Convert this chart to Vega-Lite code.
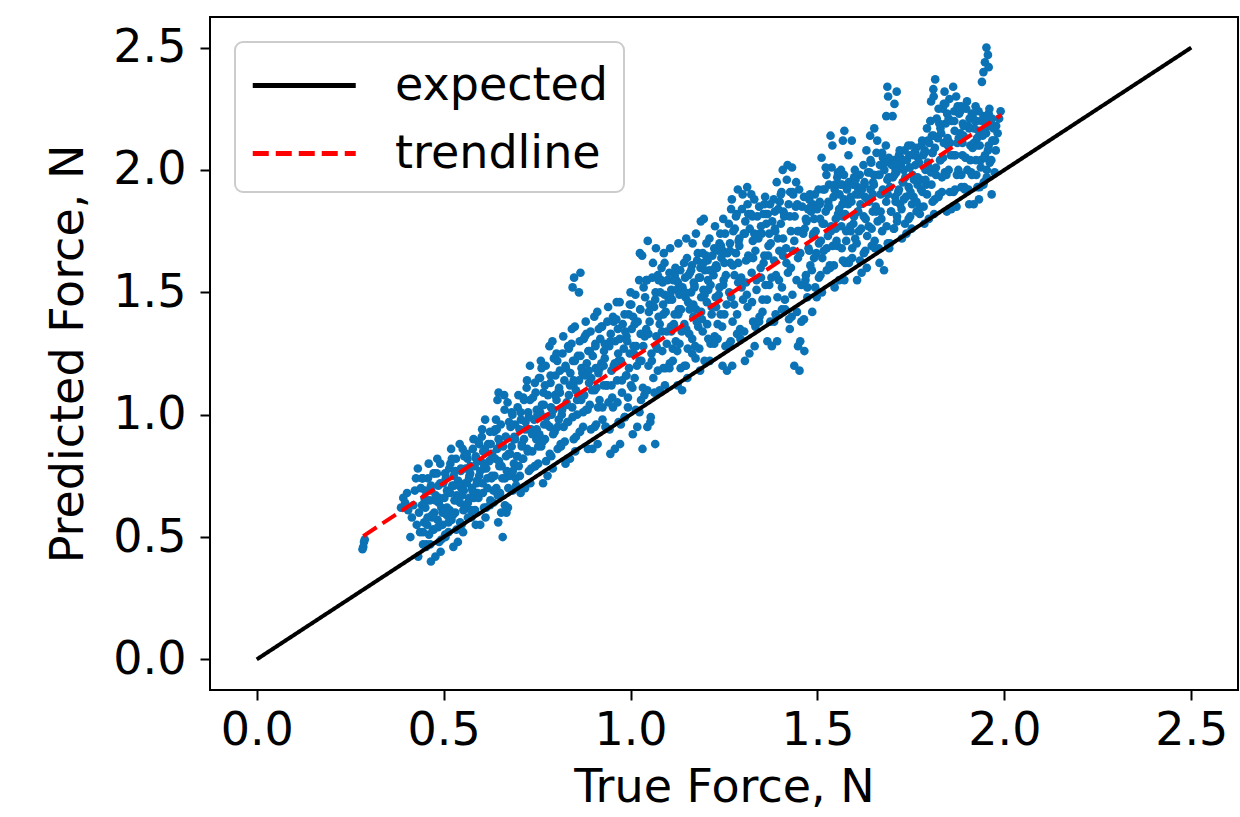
{
"$schema": "https://vega.github.io/schema/vega-lite/v6.json",
"width": 1028,
"height": 673,
"autosize": {"type": "none"},
"padding": {"left": 210, "top": 17, "right": 2, "bottom": 127},
"background": "white",
"config": {
  "font": "DejaVu Sans",
  "view": {"stroke": "#000", "strokeWidth": 2},
  "axis": {"grid": false, "domain": false, "tickColor": "#000", "tickWidth": 2, "tickSize": 10, "labelFont": "DejaVu Sans", "labelFontSize": 46, "labelColor": "#000", "titleFont": "DejaVu Sans", "titleFontSize": 46, "titleFontWeight": "normal", "titleColor": "#000"},
  "legend": {"orient": "top-left", "offset": 25, "title": null, "labelFont": "DejaVu Sans", "labelFontSize": 46, "labelColor": "#000", "labelLimit": 600, "symbolType": "M-1,0H3", "symbolSize": 2652, "symbolStrokeWidth": 5, "padding": 15, "rowPadding": 16, "labelOffset": 88, "strokeColor": "#cccccc", "strokeWidth": 2, "cornerRadius": 8, "fillColor": "white"}
},
"datasets": {
"lines": [
  {"series": "expected", "x": 0, "y": 0}, {"series": "expected", "x": 2.5, "y": 2.5},
  {"series": "trendline", "x": 0.285, "y": 0.504}, {"series": "trendline", "x": 1.992, "y": 2.225}
],
"pts": [
{"x":0.283,"y":0.45},{"x":0.285,"y":0.46},{"x":0.287,"y":0.48},{"x":0.289,"y":0.49},
{"x":0.386,"y":0.62},{"x":0.392,"y":0.66},{"x":0.397,"y":0.64},{"x":0.402,"y":0.68},{"x":0.405,"y":0.61},
{"x":0.411,"y":0.50},{"x":0.415,"y":0.58},{"x":0.419,"y":0.63},{"x":0.423,"y":0.69},{"x":0.426,"y":0.74},{"x":0.428,"y":0.55},
{"x":0.432,"y":0.42},{"x":0.445,"y":0.47},{"x":0.437,"y":0.52},{"x":0.448,"y":0.56},{"x":0.434,"y":0.60},{"x":0.442,"y":0.63},{"x":0.449,"y":0.66},{"x":0.439,"y":0.70},{"x":0.444,"y":0.74},{"x":0.431,"y":0.78},
{"x":0.466,"y":0.40},{"x":0.453,"y":0.46},{"x":0.461,"y":0.51},{"x":0.456,"y":0.55},{"x":0.469,"y":0.58},{"x":0.451,"y":0.62},{"x":0.463,"y":0.65},{"x":0.467,"y":0.69},{"x":0.458,"y":0.74},{"x":0.460,"y":0.80},
{"x":0.478,"y":0.42},{"x":0.488,"y":0.48},{"x":0.471,"y":0.53},{"x":0.484,"y":0.57},{"x":0.475,"y":0.60},{"x":0.487,"y":0.64},{"x":0.479,"y":0.67},{"x":0.486,"y":0.71},{"x":0.473,"y":0.76},{"x":0.483,"y":0.82},
{"x":0.492,"y":0.44},{"x":0.505,"y":0.50},{"x":0.497,"y":0.55},{"x":0.508,"y":0.59},{"x":0.494,"y":0.62},{"x":0.502,"y":0.66},{"x":0.509,"y":0.69},{"x":0.499,"y":0.72},{"x":0.504,"y":0.76},{"x":0.491,"y":0.80},
{"x":0.526,"y":0.46},{"x":0.513,"y":0.52},{"x":0.521,"y":0.57},{"x":0.516,"y":0.61},{"x":0.529,"y":0.65},{"x":0.511,"y":0.68},{"x":0.523,"y":0.71},{"x":0.527,"y":0.75},{"x":0.518,"y":0.80},{"x":0.520,"y":0.86},
{"x":0.538,"y":0.48},{"x":0.548,"y":0.55},{"x":0.531,"y":0.60},{"x":0.544,"y":0.64},{"x":0.535,"y":0.67},{"x":0.547,"y":0.70},{"x":0.539,"y":0.73},{"x":0.546,"y":0.77},{"x":0.533,"y":0.82},{"x":0.543,"y":0.88},
{"x":0.552,"y":0.52},{"x":0.565,"y":0.58},{"x":0.557,"y":0.62},{"x":0.568,"y":0.66},{"x":0.554,"y":0.69},{"x":0.562,"y":0.72},{"x":0.569,"y":0.75},{"x":0.559,"y":0.78},{"x":0.564,"y":0.82},{"x":0.551,"y":0.86},
{"x":0.586,"y":0.55},{"x":0.573,"y":0.61},{"x":0.581,"y":0.66},{"x":0.576,"y":0.70},{"x":0.589,"y":0.73},{"x":0.571,"y":0.76},{"x":0.583,"y":0.79},{"x":0.587,"y":0.82},{"x":0.578,"y":0.86},{"x":0.580,"y":0.90},
{"x":0.598,"y":0.55},{"x":0.608,"y":0.62},{"x":0.591,"y":0.68},{"x":0.604,"y":0.72},{"x":0.595,"y":0.75},{"x":0.607,"y":0.78},{"x":0.599,"y":0.81},{"x":0.606,"y":0.85},{"x":0.593,"y":0.89},{"x":0.603,"y":0.94},
{"x":0.612,"y":0.58},{"x":0.625,"y":0.65},{"x":0.617,"y":0.70},{"x":0.628,"y":0.74},{"x":0.614,"y":0.78},{"x":0.622,"y":0.81},{"x":0.629,"y":0.84},{"x":0.619,"y":0.88},{"x":0.624,"y":0.93},{"x":0.611,"y":0.98},
{"x":0.646,"y":0.56},{"x":0.633,"y":0.64},{"x":0.641,"y":0.70},{"x":0.636,"y":0.75},{"x":0.649,"y":0.79},{"x":0.631,"y":0.83},{"x":0.643,"y":0.86},{"x":0.647,"y":0.90},{"x":0.638,"y":0.94},{"x":0.640,"y":0.98},{"x":0.644,"y":1.06},{"x":0.647,"y":1.09},
{"x":0.658,"y":0.50},{"x":0.668,"y":0.60},{"x":0.651,"y":0.68},{"x":0.664,"y":0.74},{"x":0.655,"y":0.79},{"x":0.667,"y":0.83},{"x":0.659,"y":0.87},{"x":0.666,"y":0.91},{"x":0.653,"y":0.96},{"x":0.663,"y":1.02},{"x":0.662,"y":1.08},
{"x":0.672,"y":0.62},{"x":0.685,"y":0.69},{"x":0.677,"y":0.75},{"x":0.688,"y":0.80},{"x":0.674,"y":0.84},{"x":0.682,"y":0.87},{"x":0.689,"y":0.91},{"x":0.679,"y":0.95},{"x":0.684,"y":1.00},{"x":0.671,"y":1.05},
{"x":0.706,"y":0.68},{"x":0.693,"y":0.74},{"x":0.701,"y":0.79},{"x":0.696,"y":0.83},{"x":0.709,"y":0.87},{"x":0.691,"y":0.90},{"x":0.703,"y":0.94},{"x":0.707,"y":0.98},{"x":0.698,"y":1.03},{"x":0.700,"y":1.08},
{"x":0.718,"y":0.70},{"x":0.728,"y":0.77},{"x":0.711,"y":0.82},{"x":0.724,"y":0.86},{"x":0.715,"y":0.90},{"x":0.727,"y":0.94},{"x":0.719,"y":0.97},{"x":0.726,"y":1.01},{"x":0.713,"y":1.07},{"x":0.723,"y":1.14},
{"x":0.732,"y":0.72},{"x":0.745,"y":0.79},{"x":0.737,"y":0.85},{"x":0.748,"y":0.90},{"x":0.734,"y":0.94},{"x":0.742,"y":0.98},{"x":0.749,"y":1.02},{"x":0.739,"y":1.07},{"x":0.744,"y":1.13},{"x":0.731,"y":1.20},
{"x":0.766,"y":0.72},{"x":0.753,"y":0.80},{"x":0.761,"y":0.87},{"x":0.756,"y":0.92},{"x":0.769,"y":0.96},{"x":0.751,"y":1.00},{"x":0.763,"y":1.04},{"x":0.767,"y":1.09},{"x":0.758,"y":1.15},{"x":0.760,"y":1.22},
{"x":0.778,"y":0.75},{"x":0.788,"y":0.83},{"x":0.771,"y":0.90},{"x":0.784,"y":0.95},{"x":0.775,"y":0.99},{"x":0.787,"y":1.03},{"x":0.779,"y":1.08},{"x":0.786,"y":1.13},{"x":0.773,"y":1.20},{"x":0.783,"y":1.28},
{"x":0.792,"y":0.78},{"x":0.805,"y":0.86},{"x":0.797,"y":0.93},{"x":0.808,"y":0.98},{"x":0.794,"y":1.02},{"x":0.802,"y":1.06},{"x":0.809,"y":1.11},{"x":0.799,"y":1.16},{"x":0.804,"y":1.22},{"x":0.791,"y":1.30},
{"x":0.826,"y":0.80},{"x":0.813,"y":0.88},{"x":0.821,"y":0.95},{"x":0.816,"y":1.00},{"x":0.829,"y":1.05},{"x":0.811,"y":1.09},{"x":0.823,"y":1.14},{"x":0.827,"y":1.19},{"x":0.818,"y":1.25},{"x":0.820,"y":1.32},
{"x":0.838,"y":0.82},{"x":0.848,"y":0.90},{"x":0.831,"y":0.97},{"x":0.844,"y":1.03},{"x":0.835,"y":1.08},{"x":0.847,"y":1.12},{"x":0.839,"y":1.17},{"x":0.846,"y":1.22},{"x":0.833,"y":1.28},{"x":0.843,"y":1.35},{"x":0.845,"y":1.52},{"x":0.849,"y":1.56},
{"x":0.852,"y":0.85},{"x":0.865,"y":0.93},{"x":0.857,"y":1.00},{"x":0.868,"y":1.06},{"x":0.854,"y":1.10},{"x":0.862,"y":1.14},{"x":0.869,"y":1.19},{"x":0.859,"y":1.24},{"x":0.864,"y":1.30},{"x":0.851,"y":1.36},{"x":0.862,"y":1.50},{"x":0.866,"y":1.58},
{"x":0.886,"y":0.86},{"x":0.873,"y":0.95},{"x":0.881,"y":1.02},{"x":0.876,"y":1.08},{"x":0.889,"y":1.13},{"x":0.871,"y":1.17},{"x":0.883,"y":1.21},{"x":0.887,"y":1.26},{"x":0.878,"y":1.32},{"x":0.880,"y":1.38},
{"x":0.898,"y":0.86},{"x":0.908,"y":0.96},{"x":0.891,"y":1.04},{"x":0.904,"y":1.10},{"x":0.895,"y":1.15},{"x":0.907,"y":1.19},{"x":0.899,"y":1.24},{"x":0.906,"y":1.29},{"x":0.893,"y":1.34},{"x":0.903,"y":1.40},
{"x":0.912,"y":0.88},{"x":0.925,"y":0.98},{"x":0.917,"y":1.06},{"x":0.928,"y":1.12},{"x":0.914,"y":1.17},{"x":0.922,"y":1.21},{"x":0.929,"y":1.26},{"x":0.919,"y":1.31},{"x":0.924,"y":1.36},{"x":0.911,"y":1.42},
{"x":0.946,"y":0.84},{"x":0.933,"y":0.95},{"x":0.941,"y":1.05},{"x":0.936,"y":1.12},{"x":0.949,"y":1.18},{"x":0.931,"y":1.23},{"x":0.943,"y":1.28},{"x":0.947,"y":1.33},{"x":0.938,"y":1.38},{"x":0.940,"y":1.44},
{"x":0.958,"y":0.86},{"x":0.968,"y":0.97},{"x":0.951,"y":1.07},{"x":0.964,"y":1.14},{"x":0.955,"y":1.20},{"x":0.967,"y":1.25},{"x":0.959,"y":1.30},{"x":0.966,"y":1.35},{"x":0.953,"y":1.40},{"x":0.963,"y":1.46},
{"x":0.972,"y":0.88},{"x":0.985,"y":0.99},{"x":0.977,"y":1.09},{"x":0.988,"y":1.16},{"x":0.974,"y":1.22},{"x":0.982,"y":1.27},{"x":0.989,"y":1.32},{"x":0.979,"y":1.37},{"x":0.984,"y":1.41},{"x":0.971,"y":1.46},
{"x":1.006,"y":0.92},{"x":0.993,"y":1.03},{"x":1.001,"y":1.12},{"x":0.996,"y":1.19},{"x":1.009,"y":1.25},{"x":0.991,"y":1.30},{"x":1.003,"y":1.35},{"x":1.007,"y":1.40},{"x":0.998,"y":1.45},{"x":1.000,"y":1.50},
{"x":1.018,"y":0.95},{"x":1.028,"y":1.06},{"x":1.011,"y":1.15},{"x":1.024,"y":1.22},{"x":1.015,"y":1.28},{"x":1.027,"y":1.33},{"x":1.019,"y":1.38},{"x":1.026,"y":1.43},{"x":1.013,"y":1.49},{"x":1.023,"y":1.55},{"x":1.025,"y":1.66},
{"x":1.032,"y":0.86},{"x":1.045,"y":0.95},{"x":1.037,"y":1.08},{"x":1.048,"y":1.20},{"x":1.034,"y":1.28},{"x":1.042,"y":1.35},{"x":1.049,"y":1.42},{"x":1.039,"y":1.48},{"x":1.044,"y":1.55},{"x":1.031,"y":1.65},{"x":1.046,"y":1.71},
{"x":1.066,"y":0.88},{"x":1.053,"y":0.97},{"x":1.061,"y":1.15},{"x":1.056,"y":1.25},{"x":1.069,"y":1.32},{"x":1.051,"y":1.38},{"x":1.063,"y":1.44},{"x":1.067,"y":1.50},{"x":1.058,"y":1.56},{"x":1.060,"y":1.62},{"x":1.068,"y":1.68},
{"x":1.078,"y":1.10},{"x":1.088,"y":1.19},{"x":1.071,"y":1.27},{"x":1.084,"y":1.34},{"x":1.075,"y":1.40},{"x":1.087,"y":1.45},{"x":1.079,"y":1.50},{"x":1.086,"y":1.54},{"x":1.073,"y":1.57},{"x":1.083,"y":1.60},{"x":1.089,"y":1.66},
{"x":1.092,"y":1.12},{"x":1.105,"y":1.21},{"x":1.097,"y":1.29},{"x":1.108,"y":1.36},{"x":1.094,"y":1.42},{"x":1.102,"y":1.47},{"x":1.109,"y":1.51},{"x":1.099,"y":1.55},{"x":1.104,"y":1.58},{"x":1.091,"y":1.62},{"x":1.106,"y":1.68},
{"x":1.126,"y":1.12},{"x":1.113,"y":1.22},{"x":1.121,"y":1.30},{"x":1.116,"y":1.37},{"x":1.129,"y":1.43},{"x":1.111,"y":1.47},{"x":1.123,"y":1.51},{"x":1.127,"y":1.54},{"x":1.118,"y":1.57},{"x":1.120,"y":1.60},{"x":1.128,"y":1.70},
{"x":1.138,"y":1.10},{"x":1.148,"y":1.20},{"x":1.131,"y":1.29},{"x":1.144,"y":1.37},{"x":1.135,"y":1.43},{"x":1.147,"y":1.48},{"x":1.139,"y":1.52},{"x":1.146,"y":1.56},{"x":1.133,"y":1.59},{"x":1.143,"y":1.62},{"x":1.149,"y":1.72},
{"x":1.152,"y":1.15},{"x":1.165,"y":1.25},{"x":1.157,"y":1.33},{"x":1.168,"y":1.40},{"x":1.154,"y":1.46},{"x":1.162,"y":1.50},{"x":1.169,"y":1.54},{"x":1.159,"y":1.58},{"x":1.164,"y":1.61},{"x":1.151,"y":1.64},{"x":1.166,"y":1.70},
{"x":1.186,"y":1.18},{"x":1.173,"y":1.28},{"x":1.181,"y":1.36},{"x":1.176,"y":1.43},{"x":1.189,"y":1.48},{"x":1.171,"y":1.52},{"x":1.183,"y":1.56},{"x":1.187,"y":1.60},{"x":1.178,"y":1.63},{"x":1.180,"y":1.66},{"x":1.175,"y":1.74},{"x":1.188,"y":1.79},
{"x":1.198,"y":1.22},{"x":1.208,"y":1.31},{"x":1.191,"y":1.39},{"x":1.204,"y":1.46},{"x":1.195,"y":1.51},{"x":1.207,"y":1.55},{"x":1.199,"y":1.59},{"x":1.206,"y":1.63},{"x":1.193,"y":1.66},{"x":1.203,"y":1.70},{"x":1.196,"y":1.80},
{"x":1.212,"y":1.22},{"x":1.225,"y":1.32},{"x":1.217,"y":1.41},{"x":1.228,"y":1.48},{"x":1.214,"y":1.53},{"x":1.222,"y":1.57},{"x":1.229,"y":1.61},{"x":1.219,"y":1.65},{"x":1.224,"y":1.68},{"x":1.211,"y":1.72},{"x":1.226,"y":1.77},
{"x":1.246,"y":1.20},{"x":1.233,"y":1.31},{"x":1.241,"y":1.41},{"x":1.236,"y":1.49},{"x":1.249,"y":1.55},{"x":1.231,"y":1.60},{"x":1.243,"y":1.64},{"x":1.247,"y":1.67},{"x":1.238,"y":1.70},{"x":1.240,"y":1.74},{"x":1.248,"y":1.80},
{"x":1.258,"y":1.18},{"x":1.268,"y":1.30},{"x":1.251,"y":1.41},{"x":1.264,"y":1.50},{"x":1.255,"y":1.57},{"x":1.267,"y":1.62},{"x":1.259,"y":1.66},{"x":1.266,"y":1.70},{"x":1.253,"y":1.74},{"x":1.263,"y":1.78},{"x":1.269,"y":1.84},
{"x":1.272,"y":1.20},{"x":1.285,"y":1.33},{"x":1.277,"y":1.45},{"x":1.288,"y":1.54},{"x":1.274,"y":1.61},{"x":1.282,"y":1.66},{"x":1.289,"y":1.71},{"x":1.279,"y":1.76},{"x":1.284,"y":1.82},{"x":1.271,"y":1.88},{"x":1.287,"y":1.92},
{"x":1.306,"y":1.22},{"x":1.293,"y":1.35},{"x":1.301,"y":1.47},{"x":1.296,"y":1.56},{"x":1.309,"y":1.63},{"x":1.291,"y":1.69},{"x":1.303,"y":1.74},{"x":1.307,"y":1.79},{"x":1.298,"y":1.84},{"x":1.300,"y":1.90},{"x":1.312,"y":1.93},
{"x":1.318,"y":1.25},{"x":1.328,"y":1.38},{"x":1.311,"y":1.49},{"x":1.324,"y":1.58},{"x":1.315,"y":1.65},{"x":1.327,"y":1.71},{"x":1.319,"y":1.76},{"x":1.326,"y":1.81},{"x":1.313,"y":1.86},{"x":1.323,"y":1.90},
{"x":1.332,"y":1.28},{"x":1.345,"y":1.40},{"x":1.337,"y":1.51},{"x":1.348,"y":1.60},{"x":1.334,"y":1.67},{"x":1.342,"y":1.72},{"x":1.349,"y":1.77},{"x":1.339,"y":1.81},{"x":1.344,"y":1.85},{"x":1.331,"y":1.88},
{"x":1.366,"y":1.30},{"x":1.353,"y":1.42},{"x":1.361,"y":1.53},{"x":1.356,"y":1.62},{"x":1.369,"y":1.69},{"x":1.351,"y":1.74},{"x":1.363,"y":1.78},{"x":1.367,"y":1.82},{"x":1.358,"y":1.86},{"x":1.360,"y":1.89},
{"x":1.378,"y":1.28},{"x":1.388,"y":1.41},{"x":1.371,"y":1.53},{"x":1.384,"y":1.63},{"x":1.375,"y":1.70},{"x":1.387,"y":1.75},{"x":1.379,"y":1.79},{"x":1.386,"y":1.83},{"x":1.373,"y":1.86},{"x":1.383,"y":1.88},
{"x":1.392,"y":1.30},{"x":1.405,"y":1.43},{"x":1.397,"y":1.55},{"x":1.408,"y":1.65},{"x":1.394,"y":1.72},{"x":1.402,"y":1.78},{"x":1.409,"y":1.83},{"x":1.399,"y":1.87},{"x":1.404,"y":1.91},{"x":1.391,"y":1.95},{"x":1.407,"y":2.00},
{"x":1.426,"y":1.35},{"x":1.413,"y":1.47},{"x":1.421,"y":1.58},{"x":1.416,"y":1.68},{"x":1.429,"y":1.75},{"x":1.411,"y":1.81},{"x":1.423,"y":1.86},{"x":1.427,"y":1.91},{"x":1.418,"y":1.96},{"x":1.420,"y":2.02},{"x":1.432,"y":2.01},
{"x":1.438,"y":1.20},{"x":1.448,"y":1.28},{"x":1.431,"y":1.40},{"x":1.444,"y":1.55},{"x":1.435,"y":1.67},{"x":1.447,"y":1.75},{"x":1.439,"y":1.81},{"x":1.446,"y":1.86},{"x":1.433,"y":1.91},{"x":1.443,"y":1.95},
{"x":1.452,"y":1.18},{"x":1.465,"y":1.26},{"x":1.457,"y":1.38},{"x":1.468,"y":1.55},{"x":1.454,"y":1.66},{"x":1.462,"y":1.74},{"x":1.469,"y":1.80},{"x":1.459,"y":1.85},{"x":1.464,"y":1.89},{"x":1.451,"y":1.92},
{"x":1.486,"y":1.42},{"x":1.473,"y":1.52},{"x":1.481,"y":1.61},{"x":1.476,"y":1.68},{"x":1.489,"y":1.74},{"x":1.471,"y":1.79},{"x":1.483,"y":1.83},{"x":1.487,"y":1.86},{"x":1.478,"y":1.88},{"x":1.480,"y":1.90},
{"x":1.498,"y":1.48},{"x":1.508,"y":1.57},{"x":1.491,"y":1.64},{"x":1.504,"y":1.70},{"x":1.495,"y":1.75},{"x":1.507,"y":1.80},{"x":1.499,"y":1.84},{"x":1.506,"y":1.87},{"x":1.493,"y":1.90},{"x":1.503,"y":1.92},
{"x":1.512,"y":1.50},{"x":1.525,"y":1.59},{"x":1.517,"y":1.67},{"x":1.528,"y":1.73},{"x":1.514,"y":1.78},{"x":1.522,"y":1.83},{"x":1.529,"y":1.87},{"x":1.519,"y":1.92},{"x":1.524,"y":1.98},{"x":1.511,"y":2.05},
{"x":1.546,"y":1.52},{"x":1.533,"y":1.61},{"x":1.541,"y":1.69},{"x":1.536,"y":1.75},{"x":1.549,"y":1.80},{"x":1.531,"y":1.85},{"x":1.543,"y":1.89},{"x":1.547,"y":1.94},{"x":1.538,"y":2.01},{"x":1.540,"y":2.10},{"x":1.535,"y":2.14},
{"x":1.558,"y":1.55},{"x":1.568,"y":1.63},{"x":1.551,"y":1.71},{"x":1.564,"y":1.77},{"x":1.555,"y":1.82},{"x":1.567,"y":1.86},{"x":1.559,"y":1.90},{"x":1.566,"y":1.94},{"x":1.553,"y":1.97},{"x":1.563,"y":2.00},{"x":1.568,"y":2.12},{"x":1.572,"y":2.16},
{"x":1.572,"y":1.55},{"x":1.585,"y":1.63},{"x":1.577,"y":1.71},{"x":1.588,"y":1.77},{"x":1.574,"y":1.82},{"x":1.582,"y":1.86},{"x":1.589,"y":1.89},{"x":1.579,"y":1.92},{"x":1.584,"y":1.95},{"x":1.571,"y":1.98},{"x":1.583,"y":2.06},{"x":1.592,"y":2.12},
{"x":1.606,"y":1.55},{"x":1.593,"y":1.64},{"x":1.601,"y":1.72},{"x":1.596,"y":1.78},{"x":1.609,"y":1.83},{"x":1.591,"y":1.87},{"x":1.603,"y":1.90},{"x":1.607,"y":1.93},{"x":1.598,"y":1.97},{"x":1.600,"y":2.00},
{"x":1.618,"y":1.58},{"x":1.628,"y":1.67},{"x":1.611,"y":1.75},{"x":1.624,"y":1.81},{"x":1.615,"y":1.86},{"x":1.627,"y":1.89},{"x":1.619,"y":1.92},{"x":1.626,"y":1.95},{"x":1.613,"y":1.98},{"x":1.623,"y":2.02},
{"x":1.632,"y":1.60},{"x":1.645,"y":1.69},{"x":1.637,"y":1.77},{"x":1.648,"y":1.83},{"x":1.634,"y":1.88},{"x":1.642,"y":1.92},{"x":1.649,"y":1.95},{"x":1.639,"y":1.99},{"x":1.644,"y":2.03},{"x":1.631,"y":2.08},{"x":1.641,"y":2.14},{"x":1.652,"y":2.17},
{"x":1.666,"y":1.62},{"x":1.653,"y":1.71},{"x":1.661,"y":1.79},{"x":1.656,"y":1.85},{"x":1.669,"y":1.90},{"x":1.651,"y":1.94},{"x":1.663,"y":1.98},{"x":1.667,"y":2.02},{"x":1.658,"y":2.07},{"x":1.660,"y":2.12},
{"x":1.678,"y":1.59},{"x":1.688,"y":1.70},{"x":1.671,"y":1.80},{"x":1.684,"y":1.87},{"x":1.675,"y":1.92},{"x":1.687,"y":1.96},{"x":1.679,"y":2.00},{"x":1.686,"y":2.04},{"x":1.673,"y":2.07},{"x":1.683,"y":2.10},{"x":1.684,"y":2.22},{"x":1.689,"y":2.30},{"x":1.687,"y":2.34},
{"x":1.692,"y":1.68},{"x":1.705,"y":1.76},{"x":1.697,"y":1.83},{"x":1.708,"y":1.89},{"x":1.694,"y":1.93},{"x":1.702,"y":1.97},{"x":1.709,"y":2.00},{"x":1.699,"y":2.02},{"x":1.704,"y":2.04},{"x":1.691,"y":2.05},{"x":1.701,"y":2.22},{"x":1.706,"y":2.27},{"x":1.712,"y":2.32},
{"x":1.726,"y":1.72},{"x":1.713,"y":1.79},{"x":1.721,"y":1.86},{"x":1.716,"y":1.91},{"x":1.729,"y":1.95},{"x":1.711,"y":1.99},{"x":1.723,"y":2.02},{"x":1.727,"y":2.04},{"x":1.718,"y":2.06},{"x":1.720,"y":2.08},
{"x":1.738,"y":1.74},{"x":1.748,"y":1.81},{"x":1.731,"y":1.88},{"x":1.744,"y":1.93},{"x":1.735,"y":1.97},{"x":1.747,"y":2.01},{"x":1.739,"y":2.04},{"x":1.746,"y":2.06},{"x":1.733,"y":2.08},{"x":1.743,"y":2.10},
{"x":1.752,"y":1.76},{"x":1.765,"y":1.83},{"x":1.757,"y":1.89},{"x":1.768,"y":1.94},{"x":1.754,"y":1.98},{"x":1.762,"y":2.02},{"x":1.769,"y":2.05},{"x":1.759,"y":2.07},{"x":1.764,"y":2.09},{"x":1.751,"y":2.10},
{"x":1.786,"y":1.78},{"x":1.773,"y":1.85},{"x":1.781,"y":1.91},{"x":1.776,"y":1.96},{"x":1.789,"y":2.00},{"x":1.771,"y":2.03},{"x":1.783,"y":2.06},{"x":1.787,"y":2.08},{"x":1.778,"y":2.10},{"x":1.780,"y":2.12},
{"x":1.798,"y":1.80},{"x":1.808,"y":1.87},{"x":1.791,"y":1.94},{"x":1.804,"y":1.99},{"x":1.795,"y":2.03},{"x":1.807,"y":2.07},{"x":1.799,"y":2.11},{"x":1.806,"y":2.14},{"x":1.793,"y":2.17},{"x":1.803,"y":2.20},{"x":1.804,"y":2.28},{"x":1.810,"y":2.33},{"x":1.815,"y":2.37},
{"x":1.812,"y":1.82},{"x":1.825,"y":1.90},{"x":1.817,"y":1.98},{"x":1.828,"y":2.04},{"x":1.814,"y":2.09},{"x":1.822,"y":2.13},{"x":1.829,"y":2.17},{"x":1.819,"y":2.21},{"x":1.824,"y":2.25},{"x":1.811,"y":2.30},
{"x":1.846,"y":1.83},{"x":1.833,"y":1.91},{"x":1.841,"y":1.99},{"x":1.836,"y":2.05},{"x":1.849,"y":2.10},{"x":1.831,"y":2.15},{"x":1.843,"y":2.19},{"x":1.847,"y":2.23},{"x":1.838,"y":2.27},{"x":1.840,"y":2.32},
{"x":1.858,"y":1.84},{"x":1.868,"y":1.92},{"x":1.851,"y":2.00},{"x":1.864,"y":2.06},{"x":1.855,"y":2.11},{"x":1.867,"y":2.16},{"x":1.859,"y":2.20},{"x":1.866,"y":2.24},{"x":1.853,"y":2.29},{"x":1.863,"y":2.34},
{"x":1.872,"y":1.85},{"x":1.885,"y":1.93},{"x":1.877,"y":2.00},{"x":1.888,"y":2.06},{"x":1.874,"y":2.11},{"x":1.882,"y":2.15},{"x":1.889,"y":2.19},{"x":1.879,"y":2.23},{"x":1.884,"y":2.26},{"x":1.871,"y":2.30},
{"x":1.906,"y":1.86},{"x":1.893,"y":1.93},{"x":1.901,"y":2.00},{"x":1.896,"y":2.05},{"x":1.909,"y":2.10},{"x":1.891,"y":2.14},{"x":1.903,"y":2.18},{"x":1.907,"y":2.21},{"x":1.898,"y":2.25},{"x":1.900,"y":2.28},
{"x":1.918,"y":1.86},{"x":1.928,"y":1.93},{"x":1.911,"y":1.99},{"x":1.924,"y":2.04},{"x":1.915,"y":2.09},{"x":1.927,"y":2.13},{"x":1.919,"y":2.17},{"x":1.926,"y":2.20},{"x":1.913,"y":2.23},{"x":1.923,"y":2.26},
{"x":1.932,"y":1.88},{"x":1.945,"y":1.95},{"x":1.937,"y":2.01},{"x":1.948,"y":2.06},{"x":1.934,"y":2.10},{"x":1.942,"y":2.14},{"x":1.949,"y":2.17},{"x":1.939,"y":2.20},{"x":1.944,"y":2.22},{"x":1.931,"y":2.24},{"x":1.940,"y":2.36},{"x":1.944,"y":2.40},{"x":1.948,"y":2.44},{"x":1.952,"y":2.50},{"x":1.956,"y":2.47},{"x":1.958,"y":2.42},
{"x":1.966,"y":1.90},{"x":1.953,"y":1.97},{"x":1.961,"y":2.03},{"x":1.956,"y":2.08},{"x":1.969,"y":2.12},{"x":1.951,"y":2.15},{"x":1.963,"y":2.18},{"x":1.967,"y":2.21},{"x":1.958,"y":2.23},{"x":1.960,"y":2.25},
{"x":1.975,"y":2.12},{"x":1.982,"y":2.15},{"x":1.978,"y":2.18},{"x":1.986,"y":2.21},{"x":1.990,"y":2.24},
{"x":0.454,"y":0.47},{"x":0.445,"y":0.52},{"x":0.457,"y":0.58},{"x":0.448,"y":0.64},{"x":0.451,"y":0.69},{"x":0.442,"y":0.74},
{"x":0.464,"y":0.47},{"x":0.473,"y":0.53},{"x":0.469,"y":0.59},{"x":0.478,"y":0.65},{"x":0.466,"y":0.71},{"x":0.475,"y":0.76},
{"x":0.494,"y":0.49},{"x":0.485,"y":0.54},{"x":0.497,"y":0.60},{"x":0.488,"y":0.66},{"x":0.491,"y":0.72},{"x":0.482,"y":0.76},
{"x":0.504,"y":0.51},{"x":0.513,"y":0.56},{"x":0.509,"y":0.62},{"x":0.518,"y":0.68},{"x":0.506,"y":0.74},{"x":0.515,"y":0.78},
{"x":0.534,"y":0.53},{"x":0.525,"y":0.59},{"x":0.537,"y":0.65},{"x":0.528,"y":0.71},{"x":0.531,"y":0.77},{"x":0.522,"y":0.82},
{"x":0.544,"y":0.56},{"x":0.553,"y":0.61},{"x":0.549,"y":0.67},{"x":0.558,"y":0.72},{"x":0.546,"y":0.78},{"x":0.555,"y":0.83},
{"x":0.574,"y":0.58},{"x":0.565,"y":0.64},{"x":0.577,"y":0.69},{"x":0.568,"y":0.74},{"x":0.571,"y":0.79},{"x":0.562,"y":0.84},
{"x":0.584,"y":0.61},{"x":0.593,"y":0.66},{"x":0.589,"y":0.72},{"x":0.598,"y":0.77},{"x":0.586,"y":0.83},{"x":0.595,"y":0.88},
{"x":0.614,"y":0.62},{"x":0.605,"y":0.68},{"x":0.617,"y":0.74},{"x":0.608,"y":0.80},{"x":0.611,"y":0.86},{"x":0.602,"y":0.91},
{"x":0.624,"y":0.63},{"x":0.633,"y":0.69},{"x":0.629,"y":0.75},{"x":0.638,"y":0.82},{"x":0.626,"y":0.88},{"x":0.635,"y":0.93},
{"x":0.654,"y":0.60},{"x":0.645,"y":0.67},{"x":0.657,"y":0.74},{"x":0.648,"y":0.81},{"x":0.651,"y":0.88},{"x":0.642,"y":0.94},
{"x":0.664,"y":0.63},{"x":0.673,"y":0.70},{"x":0.669,"y":0.77},{"x":0.678,"y":0.84},{"x":0.666,"y":0.91},{"x":0.675,"y":0.97},
{"x":0.694,"y":0.71},{"x":0.685,"y":0.77},{"x":0.697,"y":0.83},{"x":0.688,"y":0.90},{"x":0.691,"y":0.96},{"x":0.682,"y":1.01},
{"x":0.704,"y":0.75},{"x":0.713,"y":0.82},{"x":0.709,"y":0.88},{"x":0.718,"y":0.94},{"x":0.706,"y":1.01},{"x":0.715,"y":1.06},
{"x":0.734,"y":0.78},{"x":0.725,"y":0.85},{"x":0.737,"y":0.92},{"x":0.728,"y":0.99},{"x":0.731,"y":1.06},{"x":0.722,"y":1.11},
{"x":0.744,"y":0.79},{"x":0.753,"y":0.87},{"x":0.749,"y":0.94},{"x":0.758,"y":1.01},{"x":0.746,"y":1.09},{"x":0.755,"y":1.15},
{"x":0.774,"y":0.81},{"x":0.765,"y":0.89},{"x":0.777,"y":0.96},{"x":0.768,"y":1.04},{"x":0.771,"y":1.12},{"x":0.762,"y":1.19},
{"x":0.784,"y":0.84},{"x":0.793,"y":0.92},{"x":0.789,"y":1.00},{"x":0.798,"y":1.08},{"x":0.786,"y":1.16},{"x":0.795,"y":1.23},
{"x":0.814,"y":0.87},{"x":0.805,"y":0.95},{"x":0.817,"y":1.02},{"x":0.808,"y":1.10},{"x":0.811,"y":1.18},{"x":0.802,"y":1.25},
{"x":0.824,"y":0.89},{"x":0.833,"y":0.97},{"x":0.829,"y":1.04},{"x":0.838,"y":1.12},{"x":0.826,"y":1.20},{"x":0.835,"y":1.27},
{"x":0.854,"y":0.91},{"x":0.845,"y":0.99},{"x":0.857,"y":1.06},{"x":0.848,"y":1.14},{"x":0.851,"y":1.22},{"x":0.842,"y":1.29},
{"x":0.864,"y":0.93},{"x":0.873,"y":1.01},{"x":0.869,"y":1.08},{"x":0.878,"y":1.16},{"x":0.866,"y":1.24},{"x":0.875,"y":1.31},
{"x":0.894,"y":0.94},{"x":0.885,"y":1.02},{"x":0.897,"y":1.10},{"x":0.888,"y":1.18},{"x":0.891,"y":1.26},{"x":0.882,"y":1.33},
{"x":0.904,"y":0.95},{"x":0.913,"y":1.03},{"x":0.909,"y":1.11},{"x":0.918,"y":1.19},{"x":0.906,"y":1.28},{"x":0.915,"y":1.35},
{"x":0.934,"y":0.95},{"x":0.925,"y":1.03},{"x":0.937,"y":1.12},{"x":0.928,"y":1.20},{"x":0.931,"y":1.29},{"x":0.922,"y":1.36},
{"x":0.944,"y":0.94},{"x":0.953,"y":1.03},{"x":0.949,"y":1.12},{"x":0.958,"y":1.21},{"x":0.946,"y":1.30},{"x":0.955,"y":1.38},
{"x":0.974,"y":0.96},{"x":0.965,"y":1.05},{"x":0.977,"y":1.14},{"x":0.968,"y":1.22},{"x":0.971,"y":1.31},{"x":0.962,"y":1.39},
{"x":0.984,"y":0.99},{"x":0.993,"y":1.07},{"x":0.989,"y":1.16},{"x":0.998,"y":1.25},{"x":0.986,"y":1.34},{"x":0.995,"y":1.41},
{"x":1.014,"y":1.02},{"x":1.005,"y":1.11},{"x":1.017,"y":1.20},{"x":1.008,"y":1.28},{"x":1.011,"y":1.37},{"x":1.002,"y":1.45},
{"x":1.024,"y":1.01},{"x":1.033,"y":1.11},{"x":1.029,"y":1.22},{"x":1.038,"y":1.32},{"x":1.026,"y":1.43},{"x":1.035,"y":1.52},
{"x":1.054,"y":0.99},{"x":1.045,"y":1.10},{"x":1.057,"y":1.22},{"x":1.048,"y":1.33},{"x":1.051,"y":1.45},{"x":1.042,"y":1.55},
{"x":1.064,"y":1.09},{"x":1.073,"y":1.18},{"x":1.069,"y":1.28},{"x":1.078,"y":1.37},{"x":1.066,"y":1.47},{"x":1.075,"y":1.55},
{"x":1.094,"y":1.19},{"x":1.085,"y":1.26},{"x":1.097,"y":1.34},{"x":1.088,"y":1.41},{"x":1.091,"y":1.49},{"x":1.082,"y":1.55},
{"x":1.104,"y":1.19},{"x":1.113,"y":1.27},{"x":1.109,"y":1.34},{"x":1.118,"y":1.41},{"x":1.106,"y":1.49},{"x":1.115,"y":1.55},
{"x":1.134,"y":1.19},{"x":1.125,"y":1.26},{"x":1.137,"y":1.34},{"x":1.128,"y":1.41},{"x":1.131,"y":1.49},{"x":1.122,"y":1.55},
{"x":1.144,"y":1.20},{"x":1.153,"y":1.27},{"x":1.149,"y":1.35},{"x":1.158,"y":1.43},{"x":1.146,"y":1.50},{"x":1.155,"y":1.57},
{"x":1.174,"y":1.23},{"x":1.165,"y":1.31},{"x":1.177,"y":1.38},{"x":1.168,"y":1.45},{"x":1.171,"y":1.53},{"x":1.162,"y":1.59},
{"x":1.184,"y":1.27},{"x":1.193,"y":1.34},{"x":1.189,"y":1.42},{"x":1.198,"y":1.49},{"x":1.186,"y":1.56},{"x":1.195,"y":1.62},
{"x":1.214,"y":1.29},{"x":1.205,"y":1.37},{"x":1.217,"y":1.44},{"x":1.208,"y":1.51},{"x":1.211,"y":1.59},{"x":1.202,"y":1.65},
{"x":1.224,"y":1.29},{"x":1.233,"y":1.37},{"x":1.229,"y":1.44},{"x":1.238,"y":1.52},{"x":1.226,"y":1.60},{"x":1.235,"y":1.67},
{"x":1.254,"y":1.28},{"x":1.245,"y":1.36},{"x":1.257,"y":1.45},{"x":1.248,"y":1.53},{"x":1.251,"y":1.62},{"x":1.242,"y":1.69},
{"x":1.264,"y":1.29},{"x":1.273,"y":1.38},{"x":1.269,"y":1.48},{"x":1.278,"y":1.57},{"x":1.266,"y":1.67},{"x":1.275,"y":1.75},
{"x":1.294,"y":1.31},{"x":1.285,"y":1.41},{"x":1.297,"y":1.52},{"x":1.288,"y":1.62},{"x":1.291,"y":1.72},{"x":1.282,"y":1.81},
{"x":1.304,"y":1.34},{"x":1.313,"y":1.44},{"x":1.309,"y":1.54},{"x":1.318,"y":1.64},{"x":1.306,"y":1.74},{"x":1.315,"y":1.82},
{"x":1.334,"y":1.36},{"x":1.325,"y":1.46},{"x":1.337,"y":1.55},{"x":1.328,"y":1.64},{"x":1.331,"y":1.74},{"x":1.322,"y":1.82},
{"x":1.344,"y":1.38},{"x":1.353,"y":1.47},{"x":1.349,"y":1.56},{"x":1.358,"y":1.65},{"x":1.346,"y":1.74},{"x":1.355,"y":1.82},
{"x":1.374,"y":1.38},{"x":1.365,"y":1.47},{"x":1.377,"y":1.56},{"x":1.368,"y":1.65},{"x":1.371,"y":1.74},{"x":1.362,"y":1.82},
{"x":1.384,"y":1.38},{"x":1.393,"y":1.48},{"x":1.389,"y":1.57},{"x":1.398,"y":1.67},{"x":1.386,"y":1.76},{"x":1.395,"y":1.84},
{"x":1.414,"y":1.43},{"x":1.405,"y":1.52},{"x":1.417,"y":1.62},{"x":1.408,"y":1.72},{"x":1.411,"y":1.82},{"x":1.402,"y":1.90},
{"x":1.424,"y":1.39},{"x":1.433,"y":1.49},{"x":1.429,"y":1.60},{"x":1.438,"y":1.71},{"x":1.426,"y":1.81},{"x":1.435,"y":1.90},
{"x":1.454,"y":1.30},{"x":1.445,"y":1.42},{"x":1.457,"y":1.53},{"x":1.448,"y":1.64},{"x":1.451,"y":1.75},{"x":1.442,"y":1.85},
{"x":1.464,"y":1.39},{"x":1.473,"y":1.48},{"x":1.469,"y":1.57},{"x":1.478,"y":1.67},{"x":1.466,"y":1.76},{"x":1.475,"y":1.84},
{"x":1.494,"y":1.52},{"x":1.485,"y":1.59},{"x":1.497,"y":1.66},{"x":1.488,"y":1.73},{"x":1.491,"y":1.80},{"x":1.482,"y":1.85},
{"x":1.504,"y":1.56},{"x":1.513,"y":1.64},{"x":1.509,"y":1.71},{"x":1.518,"y":1.78},{"x":1.506,"y":1.86},{"x":1.515,"y":1.92},
{"x":1.534,"y":1.60},{"x":1.525,"y":1.68},{"x":1.537,"y":1.77},{"x":1.528,"y":1.85},{"x":1.531,"y":1.94},{"x":1.522,"y":2.01},
{"x":1.544,"y":1.61},{"x":1.553,"y":1.69},{"x":1.549,"y":1.76},{"x":1.558,"y":1.84},{"x":1.546,"y":1.92},{"x":1.555,"y":1.99},
{"x":1.574,"y":1.62},{"x":1.565,"y":1.68},{"x":1.577,"y":1.75},{"x":1.568,"y":1.81},{"x":1.571,"y":1.88},{"x":1.562,"y":1.94},
{"x":1.584,"y":1.62},{"x":1.593,"y":1.68},{"x":1.589,"y":1.75},{"x":1.598,"y":1.81},{"x":1.586,"y":1.88},{"x":1.595,"y":1.94},
{"x":1.614,"y":1.63},{"x":1.605,"y":1.70},{"x":1.617,"y":1.76},{"x":1.608,"y":1.83},{"x":1.611,"y":1.90},{"x":1.602,"y":1.96},
{"x":1.624,"y":1.66},{"x":1.633,"y":1.73},{"x":1.629,"y":1.80},{"x":1.638,"y":1.87},{"x":1.626,"y":1.94},{"x":1.635,"y":1.99},
{"x":1.654,"y":1.68},{"x":1.645,"y":1.76},{"x":1.657,"y":1.83},{"x":1.648,"y":1.90},{"x":1.651,"y":1.98},{"x":1.642,"y":2.04},
{"x":1.664,"y":1.68},{"x":1.673,"y":1.75},{"x":1.669,"y":1.83},{"x":1.678,"y":1.91},{"x":1.666,"y":1.98},{"x":1.675,"y":2.05},
{"x":1.694,"y":1.70},{"x":1.685,"y":1.77},{"x":1.697,"y":1.83},{"x":1.688,"y":1.90},{"x":1.691,"y":1.97},{"x":1.682,"y":2.03},
{"x":1.704,"y":1.76},{"x":1.713,"y":1.81},{"x":1.709,"y":1.87},{"x":1.718,"y":1.92},{"x":1.706,"y":1.98},{"x":1.715,"y":2.03},
{"x":1.734,"y":1.78},{"x":1.725,"y":1.84},{"x":1.737,"y":1.89},{"x":1.728,"y":1.95},{"x":1.731,"y":2.00},{"x":1.722,"y":2.05},
{"x":1.744,"y":1.80},{"x":1.753,"y":1.86},{"x":1.749,"y":1.91},{"x":1.758,"y":1.96},{"x":1.746,"y":2.01},{"x":1.755,"y":2.06},
{"x":1.774,"y":1.82},{"x":1.765,"y":1.87},{"x":1.777,"y":1.92},{"x":1.768,"y":1.97},{"x":1.771,"y":2.03},{"x":1.762,"y":2.07},
{"x":1.784,"y":1.85},{"x":1.793,"y":1.90},{"x":1.789,"y":1.96},{"x":1.798,"y":2.01},{"x":1.786,"y":2.07},{"x":1.795,"y":2.12},
{"x":1.814,"y":1.88},{"x":1.805,"y":1.94},{"x":1.817,"y":2.01},{"x":1.808,"y":2.07},{"x":1.811,"y":2.14},{"x":1.802,"y":2.20},
{"x":1.824,"y":1.89},{"x":1.833,"y":1.97},{"x":1.829,"y":2.04},{"x":1.838,"y":2.11},{"x":1.826,"y":2.19},{"x":1.835,"y":2.25},
{"x":1.854,"y":1.91},{"x":1.845,"y":1.98},{"x":1.857,"y":2.06},{"x":1.848,"y":2.13},{"x":1.851,"y":2.21},{"x":1.842,"y":2.27},
{"x":1.864,"y":1.91},{"x":1.873,"y":1.98},{"x":1.869,"y":2.06},{"x":1.878,"y":2.13},{"x":1.866,"y":2.20},{"x":1.875,"y":2.26},
{"x":1.894,"y":1.92},{"x":1.885,"y":1.98},{"x":1.897,"y":2.05},{"x":1.888,"y":2.11},{"x":1.891,"y":2.18},{"x":1.882,"y":2.24},
{"x":1.904,"y":1.92},{"x":1.913,"y":1.98},{"x":1.909,"y":2.04},{"x":1.918,"y":2.11},{"x":1.906,"y":2.17},{"x":1.915,"y":2.22},
{"x":1.934,"y":1.93},{"x":1.925,"y":1.98},{"x":1.937,"y":2.04},{"x":1.928,"y":2.10},{"x":1.931,"y":2.16},{"x":1.922,"y":2.20},
{"x":1.944,"y":1.94},{"x":1.953,"y":2.00},{"x":1.949,"y":2.05},{"x":1.958,"y":2.10},{"x":1.946,"y":2.15},{"x":1.955,"y":2.20},
{"x":1.974,"y":1.99},{"x":1.965,"y":2.04},{"x":1.977,"y":2.08},{"x":1.968,"y":2.12},{"x":1.971,"y":2.17},{"x":1.962,"y":2.20}
]
},
"layer": [
  {
    "data": {"name": "pts"},
    "mark": {"type": "point", "shape": "circle", "filled": true, "size": 75, "color": "#0b72b5", "opacity": 1},
    "encoding": {
      "x": {"field": "x", "type": "quantitative", "scale": {"domain": [-0.125, 2.625], "nice": false, "zero": false}, "axis": {"title": "True Force, N", "values": [0, 0.5, 1, 1.5, 2, 2.5], "format": ".1f", "labelPadding": 8, "titlePadding": 12, "labelFlush": false}},
      "y": {"field": "y", "type": "quantitative", "scale": {"domain": [-0.125, 2.625], "nice": false, "zero": false}, "axis": {"title": "Predicted Force, N", "values": [0, 0.5, 1, 1.5, 2, 2.5], "format": ".1f", "labelPadding": 14, "titlePadding": 20, "labelFlush": false}}
    }
  },
  {
    "data": {"name": "lines"},
    "mark": {"type": "line", "strokeWidth": 4},
    "encoding": {
      "x": {"field": "x", "type": "quantitative"},
      "y": {"field": "y", "type": "quantitative"},
      "detail": {"field": "series"},
      "color": {"field": "series", "type": "nominal", "scale": {"domain": ["expected", "trendline"], "range": ["#000000", "#ff0000"]}, "legend": {"title": null, "symbolType": "M-1,0H3", "symbolSize": 2652, "labelOffset": 88, "labelLimit": 600}},
      "strokeDash": {"field": "series", "type": "nominal", "scale": {"domain": ["expected", "trendline"], "range": [[1, 0], [16, 7]]}, "legend": {"title": null, "symbolType": "M-1,0H3", "symbolSize": 2652, "labelOffset": 88, "labelLimit": 600}}
    }
  }
]
}
